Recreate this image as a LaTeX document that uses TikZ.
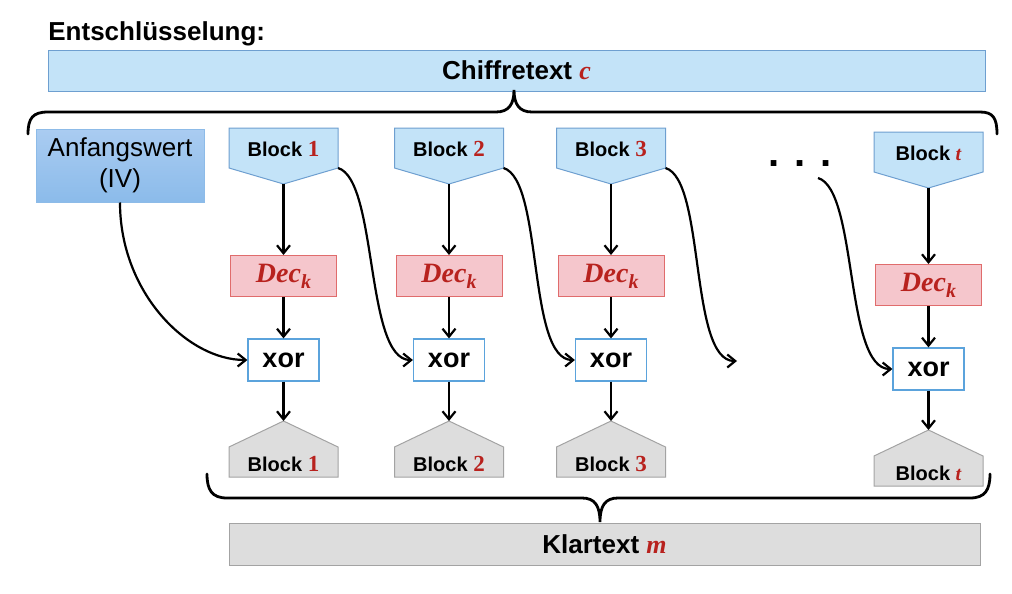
\documentclass[tikz,border=0pt]{standalone}
\usepackage{fontspec}
\setmainfont{Liberation Sans}
\newfontfamily\symfont{Liberation Serif}
\usepackage{tikz}
\usetikzlibrary{arrows.meta}
\definecolor{ink}{HTML}{000000}
\definecolor{symred}{HTML}{B8221E}
\definecolor{cipherbg}{HTML}{C3E3F8}
\definecolor{cipherln}{HTML}{6E9FD0}
\definecolor{ivtop}{HTML}{AACCF1}
\definecolor{ivbot}{HTML}{8BBBEA}
\definecolor{ivln}{HTML}{8DBBE8}
\definecolor{decbg}{HTML}{F5C6CC}
\definecolor{decln}{HTML}{E06C6C}
\definecolor{xorln}{HTML}{5BA3DC}
\definecolor{plainbg}{HTML}{DDDDDD}
\definecolor{plainln}{HTML}{A3A3A3}
\newcommand{\rsym}[1]{\textcolor{symred}{\symfont\bfseries\itshape #1}}
\newcommand{\bnum}[1]{\textcolor{symred}{\symfont\bfseries\fontsize{11.5}{12}\selectfont #1}}
\newcommand{\deck}{\textcolor{symred}{\symfont\bfseries\itshape Dec\raisebox{-0.45ex}{\fontsize{10}{10}\selectfont k}}}
\tikzset{
  cipher/.style={fill=cipherbg, draw=cipherln, line width=0.5pt},
  plain/.style={fill=plainbg, draw=plainln, line width=0.5pt},
  ivbox/.style={top color=ivtop, bottom color=ivbot, draw=ivln, line width=0.5pt,
    minimum width=84pt, minimum height=36.5pt, inner sep=0pt, align=center,
    font=\fontsize{13}{15.5}\selectfont},
  decbox/.style={fill=decbg, draw=decln, line width=0.5pt,
    minimum width=53pt, minimum height=20.5pt, inner sep=0pt,
    font=\fontsize{14}{15}\selectfont},
  xorbox/.style={fill=white, draw=xorln, line width=0.6pt,
    minimum width=35.5pt, minimum height=21pt, inner sep=0pt,
    font=\bfseries\fontsize{13.5}{15}\selectfont},
  lbl/.style={inner sep=0pt, font=\bfseries\fontsize{10}{12}\selectfont},
  big/.style={inner sep=0pt, font=\bfseries\fontsize{13}{15}\selectfont},
  arr/.style={draw=ink, line width=1.1pt, -{Straight Barb[length=4pt,width=6.5pt]}},
  brace/.style={draw=ink, line width=1.4pt, line cap=round},
}
\begin{document}
\begin{tikzpicture}[x=0.5pt, y=-0.5pt]
  \useasboundingbox (0,0) rectangle (1012,594);

  \node[big, anchor=base west] (title) at (48,40) {Entschlüsselung:};
  \node[cipher, minimum width=468.5pt, minimum height=20.5pt, inner sep=0pt] (ctext) at (516.5,70.5) {};
  \node[big] at (ctext) {Chiffretext \rsym{c}};

  % brace under the ciphertext
  \draw[brace] (28,134) .. controls (28,118) and (33,112) .. (48,112) -- (496,112)
    .. controls (509,112) and (514,104) .. (514,90)
    .. controls (514,104) and (519,112) .. (532,112) -- (980,112)
    .. controls (993,112) and (997,118) .. (997,134);

  \node[ivbox] (iv) at (120,165.5) {Anfangswert\\(IV)};

  \foreach \x/\ta/\tb/\lab/\n in {283.5/0/0/\bnum{1}/1, 449/0/0/\bnum{2}/2,
                                   611/0/0/\bnum{3}/3, 928.5/4/9/\rsym{t}/t}{
    \draw[cipher] (\x-54.5,128+\ta) -- ++(109,0) -- ++(0,40) -- ++(-54.5,16) -- ++(-54.5,-16) -- cycle;
    \node[lbl] (cb\n) at (\x,149+\ta) {Block \lab};
    \coordinate (cb\n-s) at (\x,184+\ta);
    \coordinate (cb\n-e) at (\x+54.5,168+\ta);
    \node[decbox] (dec\n) at (\x,276+\tb) {\deck};
    \node[xorbox] (xor\n) at (\x,360+\tb) {xor};
    \draw[plain] (\x-54.5,477+\tb) -- ++(0,-30) -- ++(54.5,-26) -- ++(54.5,26) -- ++(0,30) -- cycle;
    \coordinate (mb\n-n) at (\x,421+\tb);
    \node[lbl] (mb\n) at (\x,464+\tb) {Block \lab};
    \draw[arr] (cb\n-s) -- (dec\n);
    \draw[arr] (dec\n) -- (xor\n);
    \draw[arr] (xor\n) -- (mb\n-n);
  }

  \node[inner sep=0pt, font=\bfseries\fontsize{20}{22}\selectfont] (dots) at (800,164) {. . .};
  \coordinate (gap) at (818,178);
  \coordinate (free3) at (737,361);

  % chaining
  \draw[arr] (iv.south) .. controls +(0,90) and +(-60,0) .. (xor1.west);
  \draw[arr] (cb1-e) .. controls +(40,12) and +(-48,0) .. (xor2.west);
  \draw[arr] (cb2-e) .. controls +(40,12) and +(-48,0) .. (xor3.west);
  \draw[arr] (cb3-e) .. controls +(40,12) and +(-48,0) .. (free3);
  \draw[arr] (gap) .. controls +(40,12) and +(-48,0) .. (xort.west);

  % brace over the plaintext
  \draw[brace] (207,474) .. controls (207,490) and (212,498) .. (227,498) -- (582,498)
    .. controls (595,498) and (600,506) .. (600,522)
    .. controls (600,506) and (605,498) .. (618,498) -- (970,498)
    .. controls (985,498) and (990,490) .. (990,474);

  \node[plain, minimum width=375.5pt, minimum height=21pt, inner sep=0pt] (ptext) at (604.5,544) {};
  \node[big] at (ptext) {Klartext \rsym{m}};
\end{tikzpicture}
\end{document}
